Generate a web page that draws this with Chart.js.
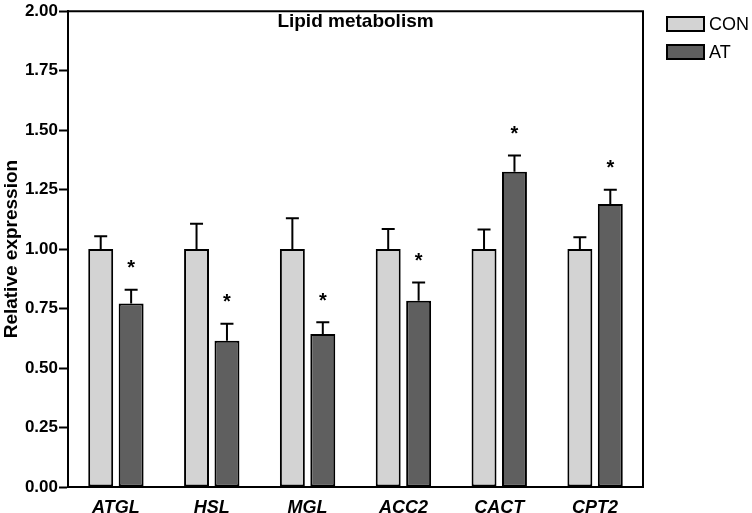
<!DOCTYPE html>
<html>
<head>
<meta charset="utf-8">
<script src="https://cdn.jsdelivr.net/npm/chart.js@4.4.1/dist/chart.umd.min.js"></script>
<style>
html,body{margin:0;padding:0;background:#fff;}
#wrap{width:752px;height:513px;position:relative;}
</style>
</head>
<body>
<div id="wrap"><canvas id="c" width="752" height="513"></canvas></div>
<script>
const categories = ['ATGL', 'HSL', 'MGL', 'ACC2', 'CACT', 'CPT2'];
const conValues = [1.00, 1.00, 1.00, 1.00, 1.00, 1.00];
const conErrors = [0.054, 0.107, 0.13, 0.085, 0.082, 0.05];
const atValues = [0.771, 0.615, 0.643, 0.783, 1.325, 1.19];
const atErrors = [0.058, 0.071, 0.049, 0.077, 0.068, 0.059];
const atSignificant = [true, true, true, true, true, true];
const seriesNames = ['CON', 'AT'];
const yTicks = [0, 0.25, 0.5, 0.75, 1.0, 1.25, 1.5, 1.75, 2.0];

const FONT = "'Liberation Sans', Arial, Helvetica, sans-serif";

const errorBarPlugin = {
  id: 'errorBars',
  afterDatasetsDraw(chart) {
    const ctx = chart.ctx;
    const yScale = chart.scales.y;
    ctx.save();
    chart.data.datasets.forEach((ds, di) => {
      const meta = chart.getDatasetMeta(di);
      meta.data.forEach((bar, i) => {
        const v = ds.data[i];
        const e = ds.errors[i];
        const yTop = yScale.getPixelForValue(v + e);
        ctx.strokeStyle = '#000';
        ctx.lineWidth = 2;
        ctx.beginPath();
        ctx.moveTo(bar.x, bar.y);
        ctx.lineTo(bar.x, yTop);
        ctx.moveTo(bar.x - 6.5, yTop);
        ctx.lineTo(bar.x + 6.5, yTop);
        ctx.stroke();
        if (ds.significant && ds.significant[i]) {
          ctx.fillStyle = '#000';
          ctx.font = 'bold 20px ' + FONT;
          ctx.textAlign = 'center';
          ctx.textBaseline = 'middle';
          ctx.fillText('*', bar.x, yTop - 21);
        }
      });
    });
    ctx.restore();
  }
};

const framePlugin = {
  id: 'frame',
  afterDraw(chart) {
    const ctx = chart.ctx;
    const a = chart.chartArea;
    ctx.save();
    ctx.strokeStyle = '#000';
    ctx.lineWidth = 2;
    ctx.beginPath();
    ctx.moveTo(a.left - 1, a.top);
    ctx.lineTo(a.right, a.top);
    ctx.lineTo(a.right, a.bottom);
    ctx.stroke();
    // title inside plot
    ctx.fillStyle = '#000';
    ctx.font = 'bold 19px ' + FONT;
    ctx.textAlign = 'center';
    ctx.textBaseline = 'middle';
    ctx.fillText('Lipid metabolism', (a.left + a.right) / 2, 22);
    // legend
    chart.data.datasets.forEach((ds, i) => {
      const y = 17 + i * 28;
      ctx.fillStyle = ds.backgroundColor;
      ctx.fillRect(667, y, 37, 14);
      ctx.lineWidth = 2;
      ctx.strokeStyle = '#000';
      ctx.strokeRect(667, y, 37, 14);
      ctx.fillStyle = '#000';
      ctx.font = '18px ' + FONT;
      ctx.textAlign = 'left';
      ctx.textBaseline = 'middle';
      ctx.fillText(ds.label, 709, y + 8);
    });
    ctx.restore();
  }
};

new Chart(document.getElementById('c'), {
  type: 'bar',
  data: {
    labels: categories,
    datasets: [
      { label: seriesNames[0], data: conValues, errors: conErrors, significant: null,
        backgroundColor: '#d3d3d3', borderColor: '#000', borderWidth: 2, borderSkipped: false,
        categoryPercentage: 0.635, barPercentage: 0.82 },
      { label: seriesNames[1], data: atValues, errors: atErrors, significant: atSignificant,
        backgroundColor: '#5f5f5f', borderColor: '#000', borderWidth: 2, borderSkipped: false,
        categoryPercentage: 0.635, barPercentage: 0.82 }
    ]
  },
  options: {
    responsive: false,
    animation: false,
    devicePixelRatio: 1,
    layout: { padding: { left: 0, right: 109, top: 7, bottom: 0 } },
    plugins: { legend: { display: false }, tooltip: { enabled: false }, title: { display: false } },
    scales: {
      x: {
        grid: { display: true, drawOnChartArea: false, drawTicks: false, color: 'rgba(0,0,0,0)' },
        border: { display: true, color: '#000', width: 2 },
        ticks: { color: '#000', font: { family: FONT, size: 18, weight: 'bold', style: 'italic' }, padding: 10 },
        afterFit(s) { s.height = 26; }
      },
      y: {
        min: 0, max: 2,
        afterBuildTicks(s) { s.ticks = yTicks.map(v => ({ value: v })); },
        grid: { display: true, drawOnChartArea: false, drawTicks: true, tickLength: 9, tickColor: '#000', tickWidth: 2 },
        border: { display: true, color: '#000', width: 2 },
        ticks: { color: '#000', font: { family: FONT, size: 17, weight: 'bold' }, padding: 1,
          callback: (v) => Number(v).toFixed(2) },
        title: { display: true, text: 'Relative expression', color: '#000', font: { family: FONT, size: 19, weight: 'bold' }, padding: 0 },
        afterFit(s) { s.width = 68; }
      }
    }
  },
  plugins: [errorBarPlugin, framePlugin]
});
</script>
</body>
</html>
